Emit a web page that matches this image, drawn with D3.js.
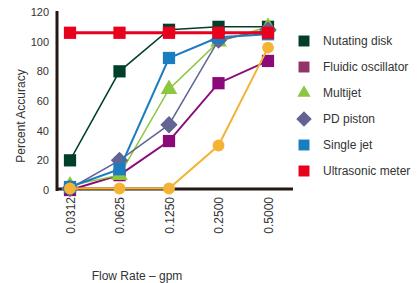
<!DOCTYPE html>
<html>
<head>
<meta charset="utf-8">
<script src="https://cdn.jsdelivr.net/npm/d3@7"></script>
<style>
body { margin: 0; background: #fff; }
svg text { font-family: "Liberation Sans", Arial, sans-serif; fill: #333; }
.axis path, .axis line { display: none; }
</style>
</head>
<body>
<svg id="chart" width="420" height="283"></svg>
<script>
var rates = ['0.0312', '0.0625', '0.1250', '0.2500', '0.5000'];
var yTicks = [0, 20, 40, 60, 80, 100, 120];

var nutating = [20, 80, 108, 110, 110];
var fluidic = [0, 10, 33, 72, 87];
var multijet = [3, 10, 68, 100, 110];
var pdPiston = [1, 20, 44, 101, 108];
var singleJet = [2, 14, 89, 103, 105];
var unnamed = [1, 1, 1, 30, 96];
var ultrasonic = [106, 106, 106, 106, 106];

var series = [
	{name: 'Nutating disk', values: nutating, color: '#00402a', shape: 'square', width: 1.5},
	{name: 'Fluidic oscillator', values: fluidic, color: '#8b0a7a', shape: 'square', width: 2},
	{name: 'Multijet', values: multijet, color: '#8dc63f', shape: 'triangle', width: 1.5},
	{name: 'PD piston', values: pdPiston, color: '#626494', shape: 'diamond', width: 1.5},
	{name: 'Single jet', values: singleJet, color: '#1a7dc0', shape: 'square', width: 2},
	{name: null, values: unnamed, color: '#f5b335', shape: 'circle', width: 2},
	{name: 'Ultrasonic meter', values: ultrasonic, color: '#e8001c', shape: 'square', width: 3}
];

const svg = d3.select('#chart');
const x = d3.scalePoint().domain(rates).range([70, 268]);
const y = d3.scaleLinear().domain([0, 120]).range([190, 12]);

function symbolPath(shape, big) {
	var k = big ? 1 : 0.8;
	if (shape === 'square' || shape === 'diamond') return d3.symbol().type(d3.symbolSquare).size(150 * k)();
	if (shape === 'triangle') return d3.symbol().type(d3.symbolTriangle).size(120 * k * k)();
	return d3.symbol().type(d3.symbolCircle).size(110)();
}

// y labels
svg.append('g')
	.attr('class', 'axis')
	.attr('transform', 'translate(49,0)')
	.call(d3.axisLeft(y).tickValues(yTicks).tickSize(0).tickPadding(0))
	.selectAll('text')
	.style('font-size', '11px');

// x labels, rotated
const xg = svg.append('g')
	.attr('class', 'axis')
	.attr('transform', 'translate(0,197)')
	.call(d3.axisBottom(x).tickSize(0).tickPadding(0));
xg.selectAll('text')
	.style('font-size', '12px')
	.attr('text-anchor', 'end')
	.attr('x', 0)
	.attr('y', 0)
	.attr('dy', '0.35em')
	.attr('transform', 'rotate(-90)');

// axes lines
svg.append('line').attr('x1', 57).attr('x2', 57).attr('y1', y(120) - 1).attr('y2', y(0) + 1)
	.attr('stroke', '#231815').attr('stroke-width', 3);
svg.append('line').attr('x1', 56).attr('x2', 293).attr('y1', y(0) - 1).attr('y2', y(0) - 1)
	.attr('stroke', '#231815').attr('stroke-width', 3);

const line = d3.line().x((d, i) => x(rates[i])).y(d => y(d));

series.forEach(function(s) {
	const g = svg.append('g');
	g.append('path')
		.datum(s.values)
		.attr('d', line)
		.attr('fill', 'none')
		.attr('stroke', s.color)
		.attr('stroke-width', s.width);
	g.selectAll('path.mark')
		.data(s.values)
		.enter().append('path')
		.attr('class', 'mark')
		.attr('d', symbolPath(s.shape, true))
		.attr('fill', s.color)
		.attr('transform', (d, i) => 'translate(' + x(rates[i]) + ',' + y(d) + ')' + (s.shape === 'diamond' ? ' rotate(45)' : ''));
});

// legend
const legendItems = series.filter(s => s.name);
const leg = svg.append('g').selectAll('g')
	.data(legendItems)
	.enter().append('g')
	.attr('transform', (d, i) => 'translate(304,' + (41 + i * 26) + ')');
leg.append('path')
	.attr('d', d => symbolPath(d.shape, false))
	.attr('transform', d => d.shape === 'diamond' ? 'rotate(45)' : null)
	.attr('fill', d => d.name === 'Fluidic oscillator' ? '#923468' : d.color);
leg.append('text')
	.attr('x', 19)
	.attr('dy', '0.35em')
	.style('font-size', '12px')
	.text(d => d.name);

// titles
svg.append('text')
	.attr('transform', 'translate(25,116) rotate(-90)')
	.attr('text-anchor', 'middle')
	.style('font-size', '12px')
	.text('Percent Accuracy');
svg.append('text')
	.attr('x', 137)
	.attr('y', 280)
	.attr('text-anchor', 'middle')
	.style('font-size', '12px')
	.text('Flow Rate – gpm');
</script>
</body>
</html>
